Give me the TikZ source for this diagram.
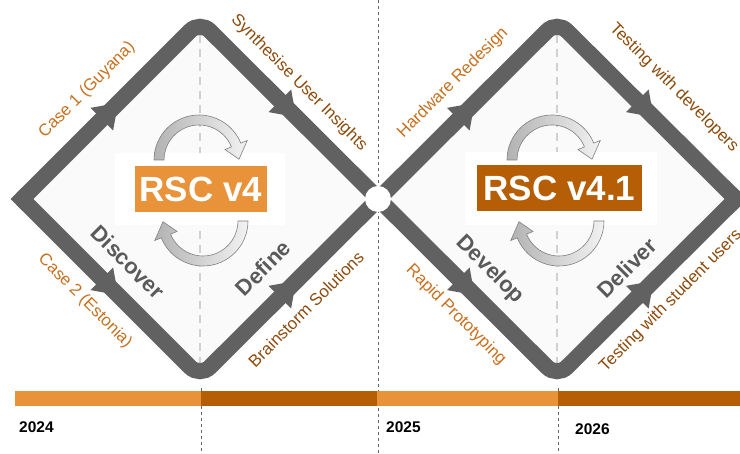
\documentclass[tikz,border=0pt]{standalone}
\usepackage{fontspec}
\setmainfont{Liberation Sans}
\usetikzlibrary{positioning,calc}

\definecolor{lightorange}{HTML}{E8923A}
\definecolor{darkorange}{HTML}{B55E06}
\definecolor{lighttext}{HTML}{C8701F}
\definecolor{darktext}{HTML}{8E4A0C}
\definecolor{track}{HTML}{616161}
\definecolor{phase}{HTML}{5A5A5A}
\definecolor{paper}{HTML}{FAFAFA}

\tikzset{
	trackline/.style={draw=track, line width=16pt, rounded corners=14pt},
	trackhead/.pic={\fill[track] (10,0) -- (-13,16) -- (-13,-16) -- cycle;},
	loopover/.pic={\shade[draw=black!50, line width=0.6pt, left color=black!30, right color=black!5]
		(180:45) arc[start angle=180, end angle=22, radius=45] -- (22:52) -- (1:40) -- (22:28) -- (22:35) arc[start angle=22, end angle=180, radius=35] -- cycle;},
	edgetext/.style={font=\fontsize{16.8}{17}\selectfont, inner sep=0pt},
	phasetext/.style={font=\fontsize{22}{23}\selectfont\bfseries, text=phase, inner sep=0pt},
	versionbox/.style={text=white, font=\fontsize{35}{36}\selectfont\bfseries, minimum height=46pt, inner sep=0pt},
	yeartext/.style={font=\fontsize{15.5}{16}\selectfont\bfseries, anchor=base west, inner sep=0pt},
	timedash/.style={draw=black!60, dash pattern=on 3pt off 3pt, line width=0.8pt},
	middash/.style={draw=black!18, dash pattern=on 8pt off 6pt, line width=1.5pt}
}

\begin{document}
\begin{tikzpicture}[x=1pt,y=1pt]
	\useasboundingbox (0,0) rectangle (740,454);
	\clip (0,0) rectangle (740,454);
	\fill[white] (0,0) rectangle (740,454);

	\coordinate (L1) at (22,255);
	\coordinate (T1) at (200,433);
	\coordinate (B1) at (200,77);
	\coordinate (X) at (378,255);
	\coordinate (T2) at (557,433);
	\coordinate (B2) at (557,77);
	\coordinate (R2) at (736,255);

	\fill[paper] (L1) -- (T1) -- (X) -- (B1) -- cycle;
	\fill[paper] (X) -- (T2) -- (R2) -- (B2) -- cycle;
	\draw[middash, shorten >=14pt, shorten <=14pt] (T1) -- (B1);
	\draw[middash, shorten >=14pt, shorten <=14pt] (T2) -- (B2);

	\draw[timedash] (378,454) -- (378,0);
	\draw[timedash] (201,66) -- (201,0);
	\draw[timedash] (558,66) -- (558,0);

	\draw[trackline] (L1) -- (T1) -- (B2) -- (R2);
	\draw[trackline] (L1) -- (B1) -- (T2) -- (R2);
	\fill[track] (L1) +(-11.3,0) -- +(0,11.3) -- +(11.3,0) -- +(0,-11.3) -- cycle;
	\fill[track] (R2) +(-11.3,0) -- +(0,11.3) -- +(11.3,0) -- +(0,-11.3) -- cycle;
	\node[circle, fill=white, minimum size=26pt, inner sep=0pt] (hub) at (X) {};

	\pic[rotate=45] at ($(L1)!.5!(T1)$) {trackhead};
	\pic[rotate=-45] at ($(T1)!.5!(X)$) {trackhead};
	\pic[rotate=-45] at ($(L1)!.5!(B1)$) {trackhead};
	\pic[rotate=45] at ($(B1)!.5!(X)$) {trackhead};
	\pic[rotate=45] at ($(X)!.5!(T2)$) {trackhead};
	\pic[rotate=-45] at ($(T2)!.5!(R2)$) {trackhead};
	\pic[rotate=-45] at ($(X)!.5!(B2)$) {trackhead};
	\pic[rotate=45] at ($(B2)!.5!(R2)$) {trackhead};

	\fill[white] (115,229) rectangle (285,301);
	\fill[white] (465,229) rectangle (657,302);
	\pic at (199,294) {loopover};
	\pic[rotate=180] at (203,233) {loopover};
	\pic at (552,294) {loopover};
	\pic[rotate=180] at (559,233) {loopover};
	\node[versionbox, fill=lightorange, minimum width=132pt] (v4) at (201,265) {RSC v4};
	\node[versionbox, fill=darkorange, minimum width=165pt] (v41) at (559.5,266) {RSC v4.1};

	\node[edgetext, text=lighttext, rotate=45] (case1) at (87,364) {Case 1 (Guyana)};
	\node[edgetext, text=darktext, rotate=-45] (insights) at (299,371) {Synthesise User Insights};
	\node[edgetext, text=lighttext, rotate=-45] (case2) at (85,153) {Case 2 (Estonia)};
	\node[edgetext, text=darktext, rotate=45] (brainstorm) at (306,145) {Brainstorm Solutions};
	\node[edgetext, text=lighttext, rotate=45] (hardware) at (453,371) {Hardware Redesign};
	\node[edgetext, text=darktext, rotate=-45] (devtest) at (674,366) {Testing with developers};
	\node[edgetext, text=lighttext, rotate=-45] (rapid) at (456,139) {Rapid Prototyping};
	\node[edgetext, text=darktext, rotate=45] (usertest) at (671,153) {Testing with student users};

	\node[phasetext, rotate=-45] (discover) at (128,192) {Discover};
	\node[phasetext, rotate=45] (define) at (263,186) {Define};
	\node[phasetext, rotate=-45] (develop) at (490,184) {Develop};
	\node[phasetext, rotate=45] (deliver) at (627,186) {Deliver};

	\foreach \a/\b/\c in {15/201/lightorange, 201/377/darkorange, 377/558/lightorange, 558/740/darkorange}
		\fill[\c] (\a,48) rectangle (\b,63);

	\node[yeartext] (y2024) at (19,21) {2024};
	\node[yeartext] (y2025) at (386,21) {2025};
	\node[yeartext] (y2026) at (575,19) {2026};
\end{tikzpicture}
\end{document}
